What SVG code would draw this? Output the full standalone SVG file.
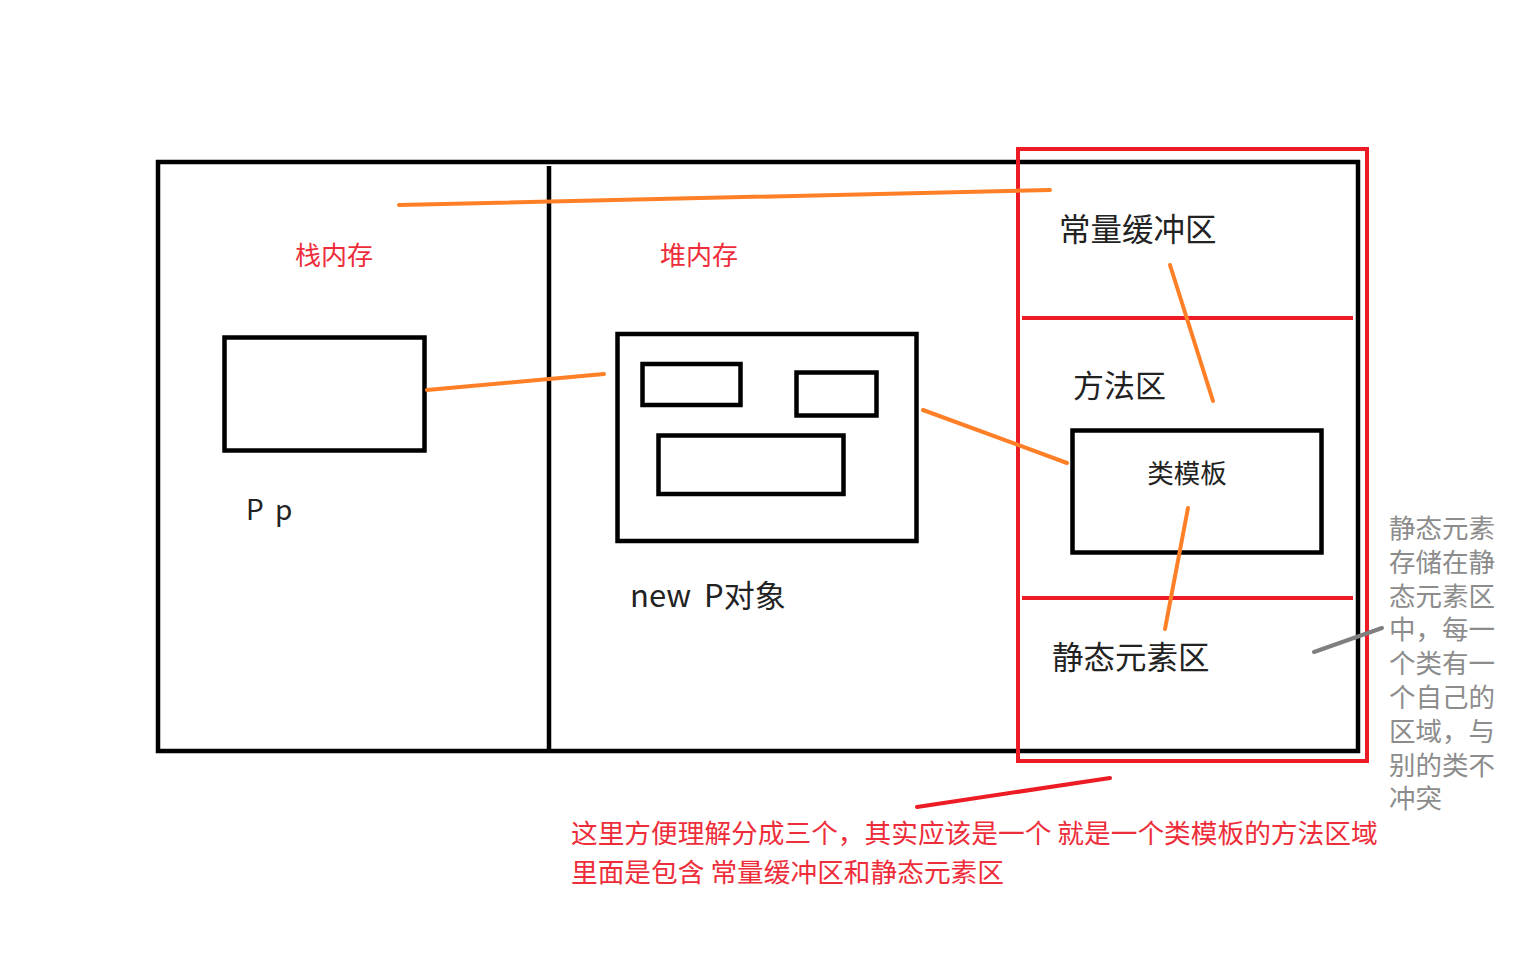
<svg xmlns="http://www.w3.org/2000/svg" width="1536" height="960" viewBox="0 0 1536 960">
<style>
.box{fill:none;stroke:#000;stroke-width:4.5}
.red{fill:none;stroke:#ed1c24;stroke-width:4}
.org{stroke:#ff7f27;stroke-width:4;stroke-linecap:round;fill:none}
.t{font-family:"Noto Sans CJK SC","Liberation Sans",sans-serif}
.rt{fill:#ee2d3a}
.bt{fill:#222}
.gt{fill:#8c8c8c}
</style>
<rect width="1536" height="960" fill="#fff"/>
<g id="memory">
<rect class="box" x="158" y="162" width="1200" height="589"/>
<line x1="549" y1="166" x2="549" y2="751" stroke="#000" stroke-width="4.5"/>
</g>
<g id="stack">
<text class="t rt" x="334" y="265" font-size="26" text-anchor="middle">栈内存</text>
<rect class="box" x="224.5" y="337.5" width="200" height="113"/>
<text class="t bt" x="246" y="520" font-size="28" word-spacing="5">P p</text>
</g>
<g id="heap">
<text class="t rt" x="699" y="265" font-size="26" text-anchor="middle">堆内存</text>
<rect class="box" x="617.5" y="334" width="299" height="207"/>
<rect class="box" x="642.5" y="364" width="98" height="41"/>
<rect class="box" x="796.5" y="372.5" width="80" height="43"/>
<rect class="box" x="658.5" y="435.5" width="185" height="58.5"/>
<text class="t bt" x="630" y="607" font-size="31" word-spacing="6">new P对象</text>
</g>
<g id="method-area">
<rect class="red" x="1018" y="149" width="349" height="612"/>
<line class="red" x1="1022" y1="318" x2="1353" y2="318"/>
<line class="red" x1="1022" y1="598" x2="1353" y2="598"/>
<text class="t bt" x="1059" y="241" font-size="31.5">常量缓冲区</text>
<text class="t bt" x="1073" y="397" font-size="31">方法区</text>
<rect class="box" x="1072.5" y="430.5" width="249" height="122"/>
<text class="t bt" x="1187" y="483" font-size="26.5" text-anchor="middle">类模板</text>
<text class="t bt" x="1052" y="669" font-size="31.5">静态元素区</text>
</g>
<g id="note-right">
<text class="t gt" font-size="26.5" x="1389">
<tspan x="1389" y="538">静态元素</tspan>
<tspan x="1389" y="572">存储在静</tspan>
<tspan x="1389" y="606">态元素区</tspan>
<tspan x="1389" y="639">中，每一</tspan>
<tspan x="1389" y="673">个类有一</tspan>
<tspan x="1389" y="707">个自己的</tspan>
<tspan x="1389" y="741">区域，与</tspan>
<tspan x="1389" y="775">别的类不</tspan>
<tspan x="1389" y="808">冲突</tspan>
</text>
</g>
<g id="note-bottom">
<text class="t rt" x="571" y="843" font-size="26.7">这里方便理解分成三个，其实应该是一个 就是一个类模板的方法区域</text>
<text class="t rt" x="571" y="882" font-size="26.7">里面是包含 常量缓冲区和静态元素区</text>
</g>
<g id="connectors">
<line class="org" x1="399" y1="205" x2="1050" y2="190"/>
<line class="org" x1="427" y1="390" x2="604" y2="374"/>
<line class="org" x1="923" y1="410" x2="1067" y2="463"/>
<line class="org" x1="1170" y1="265" x2="1213" y2="401"/>
<line class="org" x1="1188" y1="508" x2="1165" y2="629"/>
<line x1="1314" y1="652" x2="1382" y2="628" stroke="#7f7f7f" stroke-width="4" stroke-linecap="round"/>
<line x1="917" y1="807" x2="1110" y2="778" stroke="#ed1c24" stroke-width="4" stroke-linecap="round"/>
</g>
</svg>
